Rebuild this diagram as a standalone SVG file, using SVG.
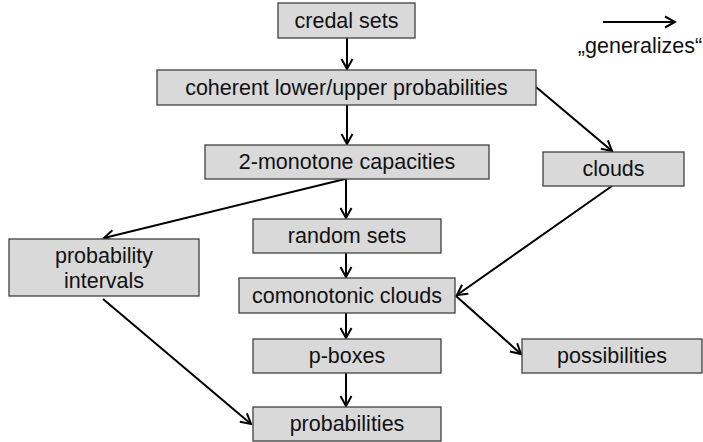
<svg xmlns="http://www.w3.org/2000/svg" width="703" height="442" viewBox="0 0 703 442">
<style>
.box{fill:#d9d9d9;stroke:#404040;stroke-width:1.3}
.lbl{font-family:"Liberation Sans",Arial,sans-serif;font-size:21.5px;fill:#111;text-anchor:middle}
.edge{stroke:#000;stroke-width:2;fill:none;marker-end:url(#ah)}
</style>
<defs>
<marker id="ah" markerUnits="userSpaceOnUse" markerWidth="14" markerHeight="14" viewBox="0 0 14 14" refX="12" refY="7" orient="auto">
<path d="M2,1.5 L12,7 L2,12.5" fill="none" stroke="#000" stroke-width="2"/>
</marker>
</defs>
<rect width="703" height="442" fill="#fff"/>
<g id="connectors">
<line class="edge" x1="347" y1="38" x2="347" y2="69"/>
<line class="edge" x1="347" y1="105" x2="347" y2="144"/>
<line class="edge" x1="536" y1="87" x2="612" y2="151"/>
<line class="edge" x1="345" y1="179" x2="104" y2="238"/>
<line class="edge" x1="346" y1="179" x2="346" y2="218"/>
<line class="edge" x1="346" y1="253" x2="346" y2="277"/>
<line class="edge" x1="612" y1="186" x2="457" y2="295"/>
<line class="edge" x1="346" y1="313" x2="346" y2="338"/>
<line class="edge" x1="346" y1="373" x2="346" y2="406"/>
<line class="edge" x1="456" y1="296" x2="521" y2="354"/>
<line class="edge" x1="103" y1="299" x2="251" y2="424"/>
<line class="edge" x1="603" y1="22" x2="675" y2="22"/>
</g>
<text class="lbl" x="640" y="53">„generalizes“</text>
<g id="credal"><rect class="box" x="278" y="3" width="137" height="35"/><text class="lbl" x="346.5" y="27.5">credal sets</text></g>
<g id="coherent"><rect class="box" x="157" y="70" width="379" height="35"/><text class="lbl" x="346.5" y="95">coherent lower/upper probabilities</text></g>
<g id="twomonotone"><rect class="box" x="205" y="145" width="284" height="34"/><text class="lbl" x="347" y="169">2-monotone capacities</text></g>
<g id="clouds"><rect class="box" x="543" y="152" width="141" height="34"/><text class="lbl" x="613.5" y="176">clouds</text></g>
<g id="probint"><rect class="box" x="9" y="239" width="190" height="57"/><text class="lbl" x="104" y="263">probability</text><text class="lbl" x="104" y="288">intervals</text></g>
<g id="randomsets"><rect class="box" x="253" y="219" width="188" height="34"/><text class="lbl" x="347" y="243">random sets</text></g>
<g id="comonotonic"><rect class="box" x="239" y="278" width="216" height="35"/><text class="lbl" x="347" y="303">comonotonic clouds</text></g>
<g id="pboxes"><rect class="box" x="253" y="339" width="188" height="34"/><text class="lbl" x="347" y="363">p-boxes</text></g>
<g id="possibilities"><rect class="box" x="522" y="339" width="180" height="34"/><text class="lbl" x="612" y="363">possibilities</text></g>
<g id="probabilities"><rect class="box" x="253" y="407" width="188" height="34"/><text class="lbl" x="347" y="431">probabilities</text></g>
</svg>
